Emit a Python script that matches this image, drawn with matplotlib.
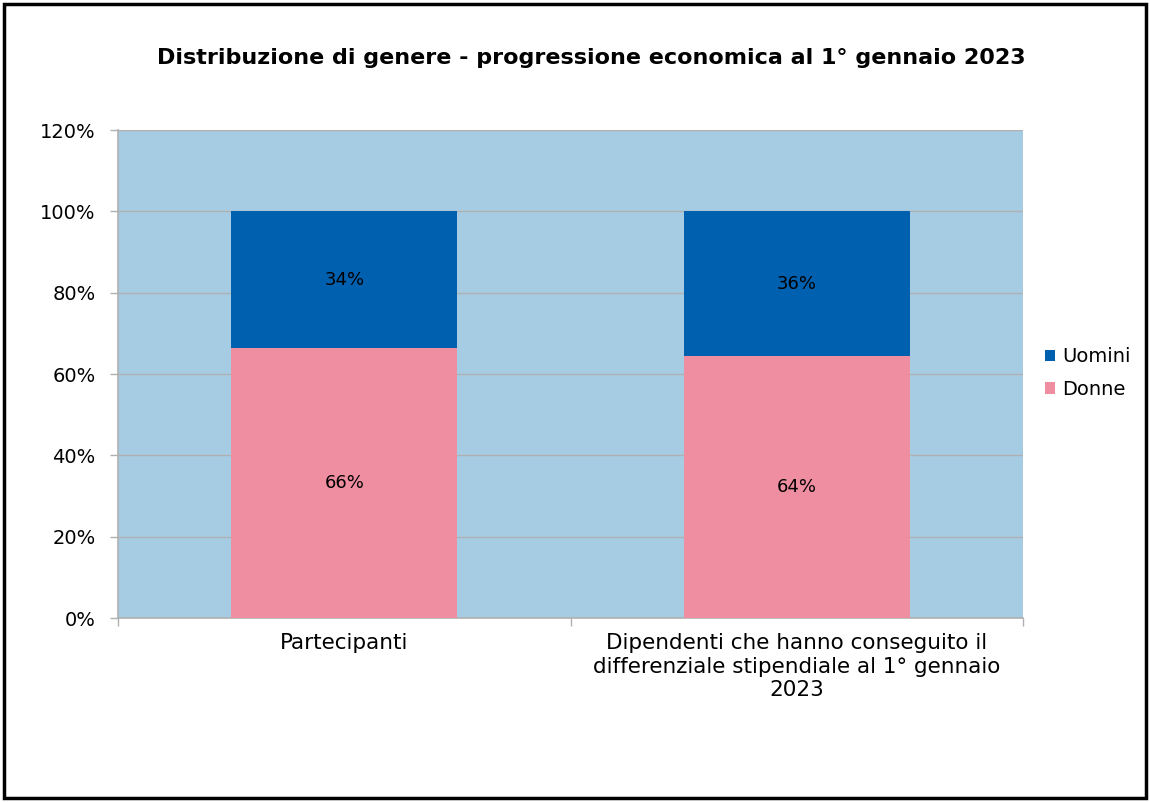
import numpy as np
import matplotlib.pyplot as plt
from matplotlib.patches import Rectangle

plt.rcParams['font.family'] = ['DejaVu Sans']

categories = ['Partecipanti',
              'Dipendenti che hanno conseguito il\ndifferenziale stipendiale al 1° gennaio\n2023']
donne = [0.664, 0.644]
uomini = [0.336, 0.356]
donne_labels = ['66%', '64%']
uomini_labels = ['34%', '36%']
yticks = [0, 0.2, 0.4, 0.6, 0.8, 1.0, 1.2]

fig = plt.figure(figsize=(11.5, 8.02), dpi=100)
ax = fig.add_axes([118/1150, 1-618/802, (1023-118)/1150, (618-130)/802])
ax.set_facecolor('#a6cce4')

x = np.arange(len(categories))
ax.bar(x, donne, width=0.5, color='#ee8ea0', label='Donne', zorder=3)
ax.bar(x, uomini, width=0.5, bottom=donne, color='#0060b0', label='Uomini', zorder=3)

for i in range(len(categories)):
    ax.text(x[i], donne[i]/2, donne_labels[i], ha='center', va='center', fontsize=13, zorder=4)
    ax.text(x[i], donne[i] + uomini[i]/2, uomini_labels[i], ha='center', va='center', fontsize=13, zorder=4)

ax.set_xlim(-0.5, 1.5)
ax.set_ylim(0, 1.2)
ax.set_yticks(yticks)
ax.set_yticklabels(['%d%%' % round(v*100) for v in yticks], fontsize=14)
ax.yaxis.grid(True, color='#b0b0b0', linewidth=1, zorder=1)
ax.set_axisbelow(True)

ax.set_xticks(x)
ax.set_xticklabels(categories, fontsize=15.5, linespacing=1.22)
ax.tick_params(axis='x', length=0, pad=11)
ax.tick_params(axis='y', length=6, color='#b0b0b0', width=1, pad=10)
# minor ticks on x at category boundaries
ax.set_xticks([-0.5, 0.5, 1.5], minor=True)
ax.tick_params(axis='x', which='minor', length=6, color='#b0b0b0', width=1)

for side in ['top', 'right']:
    ax.spines[side].set_visible(False)
for side in ['left', 'bottom']:
    ax.spines[side].set_color('#b0b0b0')
    ax.spines[side].set_linewidth(1.2)

handles, labels = ax.get_legend_handles_labels()
fig.legend(handles[::-1], labels[::-1], loc='center left', bbox_to_anchor=(1045/1150, 1-373/802),
           frameon=False, fontsize=14, handlelength=0.52, handleheight=0.52, handletextpad=0.36,
           labelspacing=0.7, borderpad=0, borderaxespad=0)

fig.text(591/1150, 1-58/802, 'Distribuzione di genere - progressione economica al 1° gennaio 2023',
         ha='center', va='center', fontsize=16, fontweight='bold')

fig.patches.append(Rectangle((4/1150, 4/802), 1142/1150, 794/802, transform=fig.transFigure,
                             fill=False, edgecolor='black', linewidth=2.5))

fig.savefig('out.png', dpi=100)
